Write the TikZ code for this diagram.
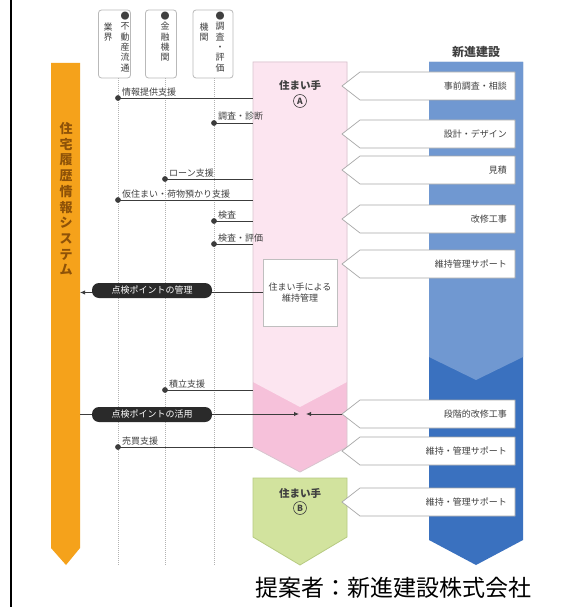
\documentclass[tikz,border=0pt]{standalone}
\usepackage{fontspec}
\newfontfamily\jp{Noto Sans CJK JP}
\usetikzlibrary{arrows.meta}
\definecolor{orangebar}{HTML}{F5A21B}
\definecolor{orangetxt}{HTML}{8E5208}
\definecolor{pinklight}{HTML}{FCE5F0}
\definecolor{pinkdark}{HTML}{F6C1DA}
\definecolor{pinkline}{HTML}{D8C4CE}
\definecolor{bluelight}{HTML}{7098D1}
\definecolor{bluedark}{HTML}{3A71BF}
\definecolor{greenbox}{HTML}{D2E39E}
\definecolor{greenline}{HTML}{B7CB82}
\definecolor{pillgray}{HTML}{2A2A2A}
\definecolor{linegray}{HTML}{3C3C3C}
\definecolor{tabgray}{HTML}{A8A8A8}
\definecolor{txtgray}{HTML}{404040}

\begin{document}
\begin{tikzpicture}[x=1pt,y=-1pt,
    tabbox/.style={draw=tabgray, fill=white, line width=0.7pt},
    tabtext/.style={font=\jp\fontsize{9}{10}\selectfont, text=txtgray, inner sep=0pt, anchor=east},
    lbl/.style={font=\jp\fontsize{9}{10}\selectfont, text=txtgray, inner sep=0pt, anchor=south west},
    pill/.style={fill=pillgray, rounded corners=7pt, text=white, font=\jp\fontsize{9}{10}\selectfont,
                 minimum width=120pt, minimum height=15pt, inner sep=0pt},
    conn/.style={draw=linegray, line width=0.9pt},
    vline/.style={draw=gray!60, dash pattern=on 1pt off 1pt, line width=0.6pt},
    topbox/.style={draw=gray!55, fill=white, rounded corners=3pt, line width=0.8pt, minimum height=68pt},
    vtxt/.style={font=\jp\fontsize{9}{10.3}\selectfont, align=center, anchor=north, inner sep=0pt, text=txtgray},
    hdr/.style={font=\jp\bfseries\fontsize{10.5}{12}\selectfont, text=txtgray, inner sep=0pt},
    circ/.style={circle, draw=txtgray, line width=0.6pt, minimum size=13pt, inner sep=0pt,
                 font=\jp\bfseries\fontsize{8.5}{9}\selectfont, text=txtgray},
    keepbox/.style={draw=gray!50, fill=white, line width=0.7pt, minimum width=74pt, minimum height=67pt,
                    align=center, font=\jp\fontsize{9}{11}\selectfont, text=txtgray},
    tipa/.style={-{Latex[length=5pt,width=4.5pt]}}
  ]
  \useasboundingbox (0,0) rectangle (575,607);
  \fill[white] (0,0) rectangle (575,607);

  % Linha da borda
  \draw[line width=1.5pt] (11,0) -- (11,607);

  % Sistema (laranja)
  \fill[orangebar] (51,63) -- (80,63) -- (80,548) -- (66,565) -- (51,548) -- cycle;
  \coordinate (orR) at (80,63);
  \node[font=\jp\bfseries\fontsize{13}{15.7}\selectfont, text=orangetxt, align=center, inner sep=0pt]
    (sys) at (66,199) {住\\宅\\履\\歴\\情\\報\\シ\\ス\\テ\\ム};

  % Caixas do topo
  \node[topbox, minimum width=32pt] (bx1) at (114.5,44) {};
  \node[topbox, minimum width=31pt] (bx2) at (161,44) {};
  \node[topbox, minimum width=40pt] (bx3) at (213,44) {};
  \node[vtxt] (bx1a) at (125,12) {●\\不\\動\\産\\流\\通};
  \node[vtxt] (bx1b) at (108,22.3) {業\\界};
  \node[vtxt] (bx2a) at (165,12) {●\\金\\融\\機\\関};
  \node[vtxt] (bx3a) at (220,12) {●\\調\\査\\・\\評\\価};
  \node[vtxt] (bx3b) at (204,22.3) {機\\関};

  % Linhas pontilhadas
  \coordinate (ln1) at (118,565);
  \coordinate (ln2) at (165,565);
  \coordinate (ln3) at (214,565);
  \draw[vline] (ln1 |- bx1.south) -- (ln1);
  \draw[vline] (ln2 |- bx2.south) -- (ln2);
  \draw[vline] (ln3 |- bx3.south) -- (ln3);

  % Sumai-te (rosa)
  \fill[pinkdark] (253,62) -- (347,62) -- (347,447) -- (300,472) -- (253,447) -- cycle;
  \fill[pinklight] (253,62) -- (347,62) -- (347,382) -- (300,407) -- (253,382) -- cycle;
  \draw[pinkline, line width=0.8pt] (253,62) -- (347,62) -- (347,447) -- (300,472) -- (253,447) -- cycle;
  \coordinate (pkL) at (253,62);
  \node[hdr] (ownA) at (300,85) {住まい手};
  \node[circ] (ownAc) at (300,101) {A};

  % Sumai-te B (verde)
  \filldraw[fill=greenbox, draw=greenline, line width=0.8pt]
    (253,478) -- (347,478) -- (347,537) -- (300,565) -- (253,537) -- cycle;
  \node[hdr] (ownB) at (300,493) {住まい手};
  \node[circ] (ownBc) at (300,508) {B};

  % Shinshin (azul)
  \fill[bluedark] (429,62) -- (523,62) -- (523,540) -- (476,565) -- (429,540) -- cycle;
  \fill[bluelight] (429,62) -- (523,62) -- (523,357) -- (476,380) -- (429,357) -- cycle;
  \node[font=\jp\bfseries\fontsize{12}{13}\selectfont, text=txtgray, inner sep=0pt] (shin) at (476,52) {新進建設};

  % Setas brancas
  \foreach \yt/\nm/\txt in {72/t1/事前調査・相談, 120/t2/設計・デザイン, 156/t3/見積, 205/t4/改修工事,
                            250/t5/維持管理サポート, 400/t6/段階的改修工事, 437/t7/維持・管理サポート,
                            488/t8/維持・管理サポート}{
    \draw[tabbox] (342,\yt+14) -- (360,\yt) -- (515,\yt) -- (515,\yt+28) -- (360,\yt+28) -- cycle;
    \coordinate (\nm tip) at (342,\yt+14);
    \node[tabtext] (\nm) at (507,\yt+14) {\txt};
  }

  % Apoios
  \foreach \nm/\px/\py/\txt in {d1/118/98/情報提供支援, d2/214/123/調査・診断, d3/165/179/ローン支援,
                                d4/118/200/仮住まい・荷物預かり支援, d5/214/221/検査, d6/214/244/検査・評価,
                                d7/165/390/積立支援, d8/118/447/売買支援}{
    \coordinate (\nm) at (\px,\py);
    \draw[conn] (\nm) -- (\nm -| pkL);
    \filldraw[linegray] (\nm) circle (2.6pt);
    \node[lbl] (\nm t) at ([shift={(4pt,2pt)}]\nm) {\txt};
  }

  % Manutencao
  \node[keepbox] (keep) at (300,292.5) {住まい手による\\維持管理};
  \draw[conn, tipa] (keep.west) -- (keep.west -| orR);
  \node[pill] (p1) at (152,290.5) {点検ポイントの管理};

  % Uso dos pontos
  \coordinate (m1) at (299,414);
  \coordinate (m2) at (306,414);
  \draw[conn, tipa] (m1 -| orR) -- (m1);
  \draw[conn, tipa] (t6tip) -- (m2);
  \node[pill] (p2) at (152,414.5) {点検ポイントの活用};

  % Proponente
  \node[font=\jp\fontsize{23}{25}\selectfont, inner sep=0pt] (prop) at (393,588) {提案者：新進建設株式会社};
\end{tikzpicture}
\end{document}
